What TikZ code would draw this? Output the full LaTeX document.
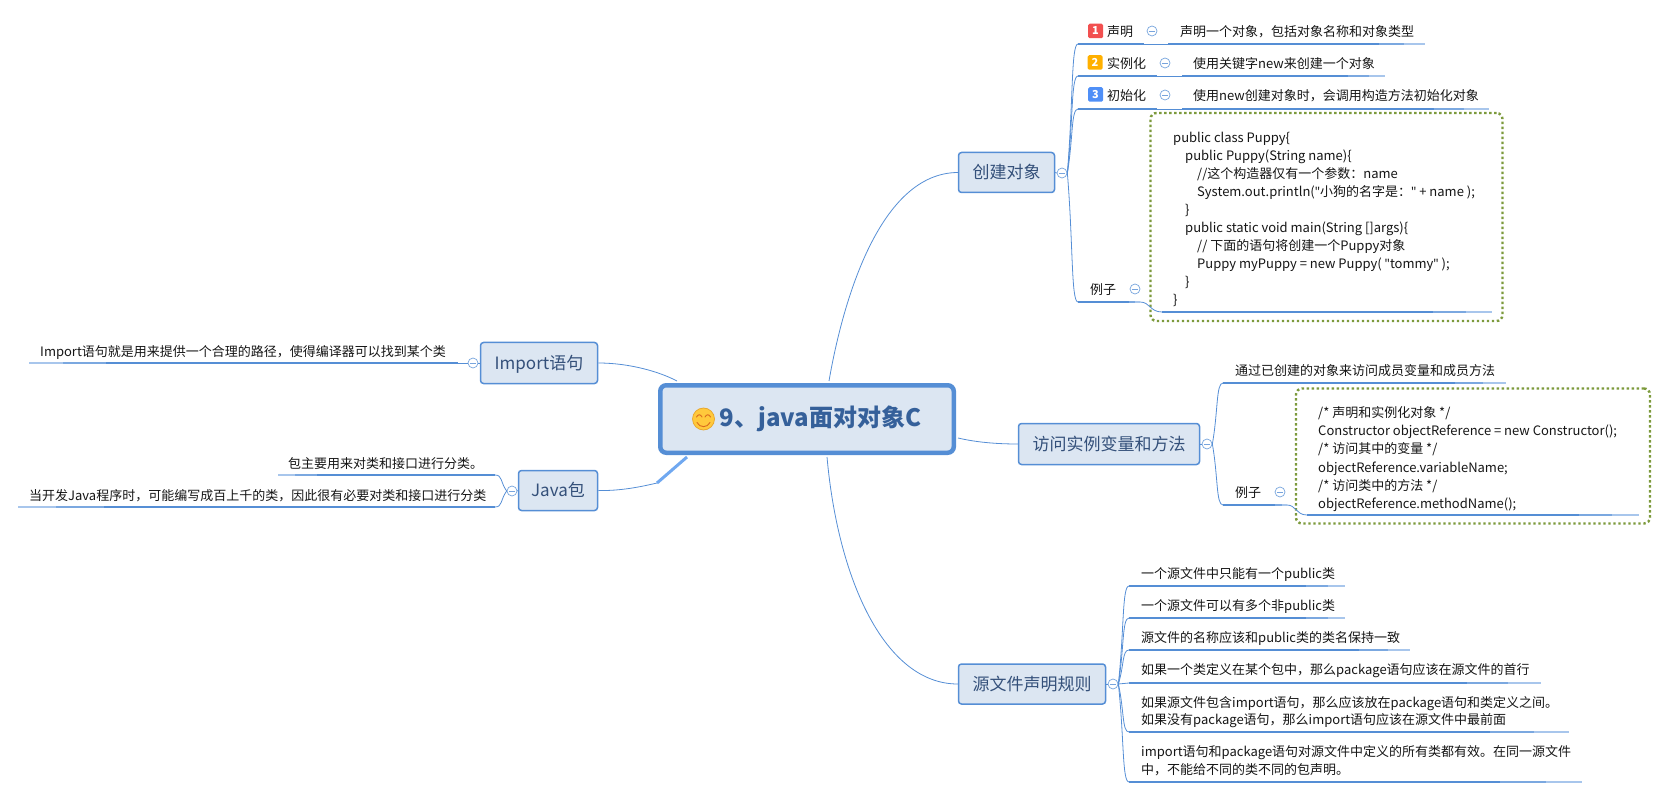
\documentclass[tikz,border=0pt]{standalone}
\usepackage{fontspec}
\usetikzlibrary{calc}
\setmainfont{Noto Sans CJK SC}
\newfontfamily\quotefont{Noto Sans}
\newcommand{\sq}{{\quotefont\symbol{34}}}
\definecolor{linec}{HTML}{558ED5}
\definecolor{midc}{HTML}{7BA8E0}
\definecolor{tailc}{HTML}{A8C6EC}
\definecolor{fillc}{HTML}{DCE6F2}
\definecolor{titlec}{HTML}{34507A}
\definecolor{rootc}{HTML}{35609A}
\definecolor{textc}{HTML}{151515}
\definecolor{dotc}{HTML}{7C9A3C}
\definecolor{jumpc}{HTML}{70A8F0}
\definecolor{smilec}{HTML}{FFC93C}
\definecolor{smileb}{HTML}{E8A52A}
\definecolor{smilem}{HTML}{D9691E}
\definecolor{badgea}{HTML}{F25050}
\definecolor{badgeb}{HTML}{FFB000}
\definecolor{badgec}{HTML}{4F8FF7}
\tikzset{
  topicbox/.style={draw=linec,fill=fillc,line width=1.5pt,rounded corners=3pt,inner sep=0pt,
    text=titlec,font=\fontsize{17}{20}\selectfont,text height=14.5pt,text depth=2.5pt},
  rootbox/.style={draw=linec,fill=fillc,line width=4.5pt,rounded corners=6pt,inner sep=0pt,
    text=rootc,font=\fontsize{24}{28}\selectfont\bfseries,minimum width=293.5pt,minimum height=67.5pt},
  leaf/.style={anchor=west,inner sep=0pt,text=textc,font=\fontsize{13}{15}\selectfont,text height=11pt,text depth=1pt},
  branch/.style={draw=linec,line width=0.8pt},
  heavy/.style={draw=linec,line width=2.2pt},
  midway line/.style={draw=midc,line width=1.6pt},
  tail/.style={draw=tailc,line width=1.1pt},
  jump/.style={draw=jumpc,line width=3pt},
  notebox/.style={draw=dotc,line width=2.4pt,rounded corners=6pt,dash pattern=on 2.4pt off 2.6pt,outer sep=0pt},
  tog/.style={circle,draw=linec!80,fill=white,line width=0.7pt,minimum size=10pt,inner sep=0pt,
    path picture={\draw[linec!80,line width=0.7pt] ([xshift=-2.8pt]path picture bounding box.center) -- ([xshift=2.8pt]path picture bounding box.center);}},
  badge/.style={rounded corners=1.5pt,minimum width=15pt,minimum height=14.5pt,inner sep=0pt,text=white,
    font=\fontsize{11}{12}\selectfont\bfseries}
}
% thick rule that fades towards its second end
\newcommand{\fade}[2]{\draw[heavy] (#1) -- ($(#1)!.82!(#2)$); \draw[midway line] ($(#1)!.82!(#2)$) -- ($(#1)!.92!(#2)$); \draw[tail] ($(#1)!.92!(#2)$) -- (#2);}
% fork from a toggle to a rule end
\newcommand{\fork}[2]{\draw[branch] (#1) .. controls ($(#1)!.55!(#2)$) and ($(#1 |- #2)!.35!(#2)$) .. (#2);}
\begin{document}
\begin{tikzpicture}[x=1pt,y=-1pt]
\path[use as bounding box] (0,0) rectangle (1667,799);

% ---------- dotted notes
\node[notebox,minimum width=352pt,minimum height=208pt,anchor=north west] (note1) at (1150.5,113) {};
\node[notebox,minimum width=354pt,minimum height=135pt,anchor=north west] (note2) at (1296,388.5) {};

% ---------- topics
\node[rootbox] (root) at (807,419) {\hspace{27pt}9、java面对对象C\hspace{4pt}};
\node[topicbox,minimum width=96pt,minimum height=40pt] (create) at (1006.5,172.5) {创建对象};
\node[topicbox,minimum width=181pt,minimum height=41pt] (access) at (1109,444) {访问实例变量和方法};
\node[topicbox,minimum width=147pt,minimum height=40pt] (rules) at (1032,684) {源文件声明规则};
\node[topicbox,minimum width=117pt,minimum height=41pt] (import) at (539,363) {Import语句};
\node[topicbox,minimum width=79pt,minimum height=40pt] (pkg) at (558,490.5) {Java包};

% ---------- emoji
\fill[draw=smileb,fill=smilec,line width=0.7pt] ($(root.center)+(-103.5,0)$) circle (11pt);
\draw[smilem,line width=0.9pt,line cap=round]
  ($(root.center)+(-110.5,-2)$) .. controls +(1.5,-3) and +(-1.5,-3) .. +(5.5,0)
  ($(root.center)+(-102,-2)$) .. controls +(1.5,-3) and +(-1.5,-3) .. +(5.5,0)
  ($(root.center)+(-110,3.5)$) .. controls +(2.5,5.5) and +(-2.5,5.5) .. +(13,0);

% ---------- main connectors
\draw[branch] ($(root.north)+(22,-2)$) .. controls (843,300) and (880,173) .. (create.west);
\draw[branch] ($(root.east)+(2,19)$) .. controls (975,442) and (995,444) .. (access.west);
\draw[branch] ($(root.south)+(20,2)$) .. controls (838,580) and (885,684) .. (rules.west);
\draw[branch] (import.east) .. controls (630,363) and (660,372) .. ($(root.north west)+(19,-2)$);
\coordinate (bend) at (657,483);
\draw[branch] (pkg.east) .. controls (620,491) and (640,487) .. (bend);
\draw[jump] (bend) -- ($(root.south west)+(29,2)$);

% ---------- toggles
\node[tog] (c0) at (1062,173) {};
\node[tog] (c1) at (1152,31) {};
\node[tog] (c2) at (1165,63) {};
\node[tog] (c3) at (1165,95) {};
\node[tog] (c4) at (1135,289) {};
\node[tog] (a0) at (1207,444) {};
\node[tog] (a1) at (1280,492) {};
\node[tog] (r0) at (1113,684) {};
\node[tog] (i0) at (473,363) {};
\node[tog] (p0) at (512,491) {};

% ---------- 创建对象 rows
\node[badge,fill=badgea] (b1) at (1095.5,31) {1};
\node[badge,fill=badgeb] (b2) at (1095,62.5) {2};
\node[badge,fill=badgec] (b3) at (1095.5,94.5) {3};
\node[leaf] (k1) at (1107,31.7) {声明};
\node[leaf] (k2) at (1107,63.7) {实例化};
\node[leaf] (k3) at (1107,95.7) {初始化};
\node[leaf] (k4) at (1090,289.7) {例子};
\node[leaf] (v1) at (1180,31.7) {声明一个对象，包括对象名称和对象类型};
\node[leaf] (v2) at (1193,63.7) {使用关键字new来创建一个对象};
\node[leaf] (v3) at (1193,95.7) {使用new创建对象时，会调用构造方法初始化对象};

\coordinate (t1) at (1078,44);   \coordinate (t1e) at (1144,44);
\coordinate (u1) at (1168,44);   \coordinate (u1e) at (1425,44);
\coordinate (t2) at (1078,76);   \coordinate (t2e) at (1157,76);
\coordinate (u2) at (1182,76);   \coordinate (u2e) at (1385,76);
\coordinate (t3) at (1078,109);  \coordinate (t3e) at (1157,109);
\coordinate (u3) at (1182,109);  \coordinate (u3e) at (1489,109);
\coordinate (t4) at (1078,302);  \coordinate (t4e) at (1140,302);
\coordinate (u4) at (1162,312);  \coordinate (u4e) at (1492,312);

\fork{c0.east}{t1} \fork{c0.east}{t2} \fork{c0.east}{t3} \fork{c0.east}{t4}
\draw[heavy] (t1) -- (t1e); \draw[branch] (t1e) -- (u1); \fade{u1}{u1e}
\draw[heavy] (t2) -- (t2e); \draw[branch] (t2e) -- (u2); \fade{u2}{u2e}
\draw[heavy] (t3) -- (t3e); \draw[branch] (t3e) -- (u3); \fade{u3}{u3e}
\fade{t4}{t4e}
\draw[branch] (t4e) .. controls (1150,302) and (1150,312) .. (u4);
\fade{u4}{u4e}
\draw[branch] (create.east) -- (c0.west);

% code block 1
\node[leaf] (p1) at (1173,138) {public class Puppy\{};
\node[leaf] (p2) at (1185,156) {public Puppy(String name)\{};
\node[leaf] (p3) at (1197,174) {//这个构造器仅有一个参数：name};
\node[leaf] (p4) at (1197,192) {System.out.println(\sq 小狗的名字是：\sq{} + name );};
\node[leaf] (p5) at (1185,210) {\}};
\node[leaf] (p6) at (1185,228) {public static void main(String []args)\{};
\node[leaf] (p7) at (1197,246) {// 下面的语句将创建一个Puppy对象};
\node[leaf] (p8) at (1197,264) {Puppy myPuppy = new Puppy( \sq tommy\sq{} );};
\node[leaf] (p9) at (1185,282) {\}};
\node[leaf] (p10) at (1173,300) {\}};

% ---------- 访问实例变量和方法 rows
\node[leaf] (x1) at (1235,370) {通过已创建的对象来访问成员变量和成员方法};
\node[leaf] (x2) at (1235,492) {例子};
\coordinate (w1) at (1223,383);  \coordinate (w1e) at (1506,383);
\coordinate (w2) at (1223,505);  \coordinate (w2e) at (1287,505);
\coordinate (w3) at (1307,515);  \coordinate (w3e) at (1639,515);
\fork{a0.east}{w1} \fork{a0.east}{w2}
\fade{w1}{w1e} \fade{w2}{w2e} \fade{w3}{w3e}
\draw[branch] (w2e) .. controls (1296,505) and (1296,515) .. (w3);
\draw[branch] (access.east) -- (a0.west);

\node[leaf] (q1) at (1318,412) {/* 声明和实例化对象 */};
\node[leaf] (q2) at (1318,430) {Constructor objectReference = new Constructor();};
\node[leaf] (q3) at (1318,448) {/* 访问其中的变量 */};
\node[leaf] (q4) at (1318,467) {objectReference.variableName;};
\node[leaf] (q5) at (1318,485) {/* 访问类中的方法 */};
\node[leaf] (q6) at (1318,503) {objectReference.methodName();};

% ---------- 源文件声明规则 rows
\node[leaf] (s1) at (1141,573) {一个源文件中只能有一个public类};
\node[leaf] (s2) at (1141,605) {一个源文件可以有多个非public类};
\node[leaf] (s3) at (1141,637) {源文件的名称应该和public类的类名保持一致};
\node[leaf] (s4) at (1141,669) {如果一个类定义在某个包中，那么package语句应该在源文件的首行};
\node[leaf] (s5) at (1141,702) {如果源文件包含import语句，那么应该放在package语句和类定义之间。};
\node[leaf] (s6) at (1141,719) {如果没有package语句，那么import语句应该在源文件中最前面};
\node[leaf] (s7) at (1141,751) {import语句和package语句对源文件中定义的所有类都有效。在同一源文件};
\node[leaf] (s8) at (1141,769) {中，不能给不同的类不同的包声明。};
\coordinate (y1) at (1129,586);  \coordinate (y1e) at (1345,586);
\coordinate (y2) at (1129,618);  \coordinate (y2e) at (1345,618);
\coordinate (y3) at (1129,650);  \coordinate (y3e) at (1410,650);
\coordinate (y4) at (1129,683);  \coordinate (y4e) at (1541,683);
\coordinate (y5) at (1129,732);  \coordinate (y5e) at (1569,732);
\coordinate (y6) at (1129,782);  \coordinate (y6e) at (1582,782);
\fork{r0.east}{y1} \fork{r0.east}{y2} \fork{r0.east}{y3}
\draw[branch] (r0.east) -- (y4);
\fork{r0.east}{y5} \fork{r0.east}{y6}
\fade{y1}{y1e} \fade{y2}{y2e} \fade{y3}{y3e} \fade{y4}{y4e} \fade{y5}{y5e} \fade{y6}{y6e}
\draw[branch] (rules.east) -- (r0.west);

% ---------- left side
\node[leaf] (l1) at (40,351) {Import语句就是用来提供一个合理的路径，使得编译器可以找到某个类};
\coordinate (li) at (458,363); \coordinate (lie) at (29,363);
\fade{li}{lie}
\draw[branch] (li) -- (i0.west);
\draw[branch] (import.west) -- (i0.east);

\node[leaf] (l2) at (288,463) {包主要用来对类和接口进行分类。};
\node[leaf] (l3) at (29,495) {当开发Java程序时，可能编写成百上千的类，因此很有必要对类和接口进行分类};
\coordinate (j1) at (495,475); \coordinate (j1e) at (278,475);
\coordinate (j2) at (495,507); \coordinate (j2e) at (18,507);
\fork{p0.west}{j1} \fork{p0.west}{j2}
\fade{j1}{j1e} \fade{j2}{j2e}
\draw[branch] (pkg.west) -- (p0.east);

\end{tikzpicture}
\end{document}
